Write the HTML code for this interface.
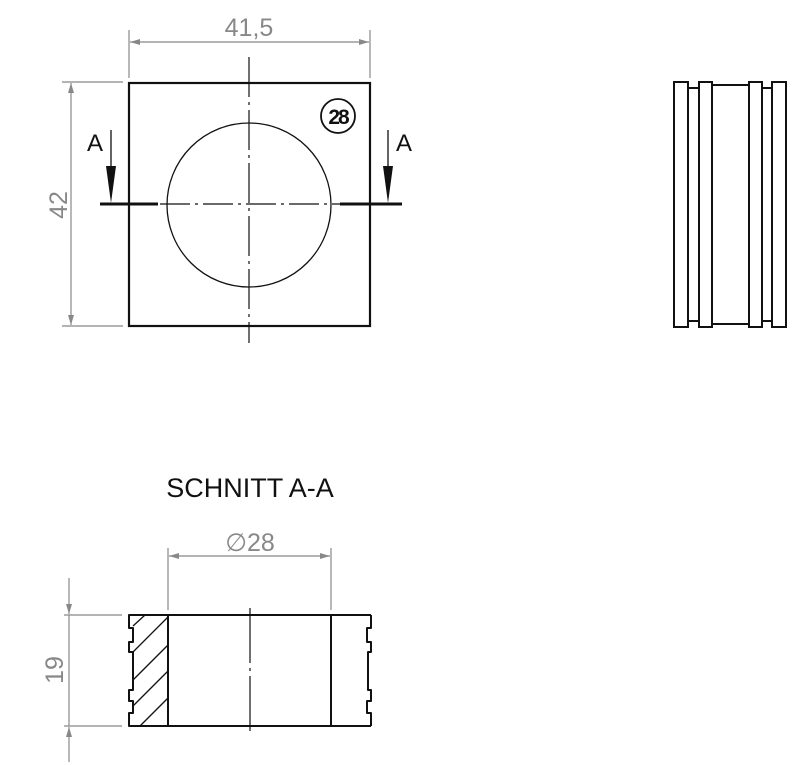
<!DOCTYPE html>
<html><head><style>
html,body{margin:0;padding:0;background:#fff;}
svg{display:block;}
text{font-family:"Liberation Sans",sans-serif;}
</style></head><body>
<svg width="800" height="765" viewBox="0 0 800 765" xmlns="http://www.w3.org/2000/svg">
<defs>
<marker id="ar" viewBox="0 0 10 6" refX="10" refY="3" markerWidth="14" markerHeight="6" markerUnits="userSpaceOnUse" orient="auto-start-reverse"><path d="M0,0 L10,3 L0,6 z" fill="#888"/></marker>
</defs>
<g stroke="#888" stroke-width="1.2" fill="none">
<line x1="129" y1="30" x2="129" y2="78"/>
<line x1="370" y1="30" x2="370" y2="78"/>
<line x1="130" y1="42" x2="369" y2="42" marker-start="url(#ar)" marker-end="url(#ar)"/>
<line x1="62" y1="82" x2="123" y2="82"/>
<line x1="62" y1="326" x2="123" y2="326"/>
<line x1="71" y1="83" x2="71" y2="325" marker-start="url(#ar)" marker-end="url(#ar)"/>
</g>
<text x="249" y="36" font-size="25" fill="#888" text-anchor="middle">41,5</text>
<text x="67" y="205" font-size="25" fill="#888" text-anchor="middle" transform="rotate(-90 67 205)">42</text>
<rect x="129" y="83" width="241" height="243" fill="none" stroke="#111" stroke-width="2.2"/>
<circle cx="249" cy="205" r="82" fill="none" stroke="#111" stroke-width="1.3"/>
<line x1="249" y1="57" x2="249" y2="343" stroke="#111" stroke-width="1.2" stroke-dasharray="40,5,3,5"/>
<line x1="160" y1="204" x2="340" y2="204" stroke="#111" stroke-width="1.2" stroke-dasharray="30,5,3,5"/>
<line x1="100" y1="204" x2="158" y2="204" stroke="#111" stroke-width="3"/>
<line x1="340" y1="204" x2="402" y2="204" stroke="#111" stroke-width="3"/>
<line x1="111" y1="130" x2="111" y2="170" stroke="#111" stroke-width="1.3"/>
<path d="M106,166 L116,166 L111,203 z" fill="#111"/>
<line x1="388" y1="130" x2="388" y2="170" stroke="#111" stroke-width="1.3"/>
<path d="M383,166 L393,166 L388,203 z" fill="#111"/>
<text x="95" y="151" font-size="24" fill="#111" text-anchor="middle">A</text>
<text x="404" y="151" font-size="24" fill="#111" text-anchor="middle">A</text>
<circle cx="338" cy="116" r="17" fill="none" stroke="#111" stroke-width="1.8"/>
<text x="338" y="124" font-size="21" font-weight="bold" fill="#111" text-anchor="middle" letter-spacing="-2">28</text>
<g stroke="#111" stroke-width="2" fill="none">
<rect x="674" y="82" width="14" height="245"/>
<rect x="699" y="82" width="13" height="245"/>
<rect x="749" y="82" width="13" height="245"/>
<rect x="772" y="82" width="14" height="245"/>
<line x1="688" y1="88" x2="699" y2="88"/><line x1="688" y1="321" x2="699" y2="321"/>
<line x1="712" y1="85" x2="749" y2="85"/><line x1="712" y1="324" x2="749" y2="324"/>
<line x1="762" y1="88" x2="772" y2="88"/><line x1="762" y1="321" x2="772" y2="321"/>
</g>
<text x="250" y="497" font-size="27" fill="#111" text-anchor="middle">SCHNITT A-A</text>
<g stroke="#888" stroke-width="1.2" fill="none">
<line x1="168" y1="548" x2="168" y2="610"/>
<line x1="331" y1="548" x2="331" y2="610"/>
<line x1="169" y1="556" x2="330" y2="556" marker-start="url(#ar)" marker-end="url(#ar)"/>
<line x1="64" y1="615" x2="122" y2="615"/>
<line x1="64" y1="726" x2="122" y2="726"/>
<line x1="69" y1="578" x2="69" y2="614" marker-end="url(#ar)"/>
<line x1="69" y1="762" x2="69" y2="727" marker-end="url(#ar)"/>
<line x1="69" y1="615" x2="69" y2="726"/>
</g>
<text x="250" y="551" font-size="25" fill="#888" text-anchor="middle">∅28</text>
<text x="63" y="670" font-size="25" fill="#888" text-anchor="middle" transform="rotate(-90 63 670)">19</text>
<g stroke="#111" stroke-width="2" fill="none" stroke-linejoin="round">
<path d="M168,615 L129,615 L129,628 L133,628 L133,642 L129,642 L129,652 L133,652 L133,690 L129,690 L129,701 L133,701 L133,713 L129,713 L129,726 L168,726 Z"/>
<line x1="168" y1="615" x2="371" y2="615"/>
<line x1="168" y1="726" x2="371" y2="726"/>
<line x1="331" y1="615" x2="331" y2="726"/>
<path d="M371,615 L371,628 L367,628 L367,642 L371,642 L371,652 L368,652 L368,690 L371,690 L371,701 L367,701 L367,713 L371,713 L371,726"/>
</g>
<g stroke="#111" stroke-width="1.3">
<line x1="133" y1="626" x2="145" y2="615"/>
<line x1="133" y1="652" x2="168" y2="617"/>
<line x1="133" y1="680" x2="168" y2="645"/>
<line x1="133" y1="706" x2="168" y2="671"/>
<line x1="140" y1="726" x2="168" y2="698"/>
</g>
<line x1="250" y1="608" x2="250" y2="733" stroke="#111" stroke-width="1.2" stroke-dasharray="55,5,3,5"/>
</svg>
</body></html>
